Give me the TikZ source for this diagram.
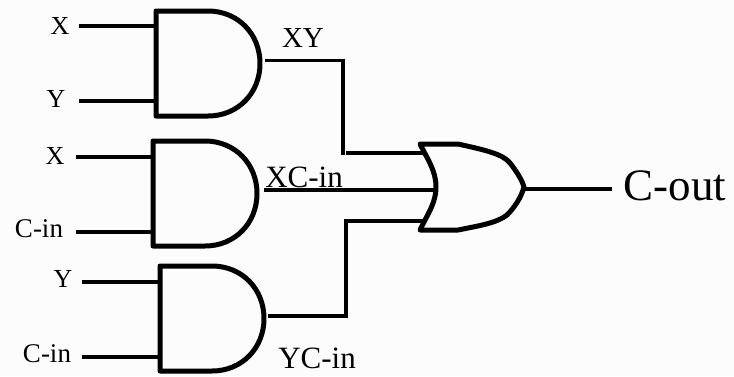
\documentclass[tikz,border=0pt]{standalone}
\usepackage{fontspec}
\setmainfont{Liberation Serif}
\tikzset{
  gate/.style={line width=5pt,line join=round,fill=none},
  wire/.style={line width=3.6pt,line join=miter},
  lab/.style={inner sep=0pt,anchor=center,text=black}
}
\newcommand{\andgate}[3]{% left, top, name prefix
  \draw[gate] (#1+52,#2) -- (#1,#2) -- (#1,#2+105) -- (#1+52,#2+105)
     .. controls (#1+82,#2+105) and (#1+104,#2+82) .. (#1+104,#2+52.5)
     .. controls (#1+104,#2+23) and (#1+82,#2) .. (#1+52,#2) -- cycle;
}
\begin{document}
\begin{tikzpicture}[x=1pt,y=-1pt]
\useasboundingbox (0,0) rectangle (734,376);
\fill[white!99!black] (0,0) rectangle (734,376);
% AND gates
\andgate{156}{11}{a}
\andgate{153}{141}{b}
\andgate{160}{266}{c}
% OR gate
\draw[gate] (420,144) -- (458,144)
   .. controls (485,150) and (503,154) .. (510,163)
   .. controls (517,172) and (522,180) .. (524,187)
   .. controls (521,198) and (514,208) .. (507,215)
   .. controls (497,223) and (478,226) .. (458,230)
   -- (420,230)
   .. controls (428,213) and (436,203) .. (436,187)
   .. controls (436,171) and (428,160) .. (420,144) -- cycle;
% named connection points
\coordinate (x1) at (79,26); \coordinate (a1) at (156,26);
\coordinate (y1) at (79,101); \coordinate (a2) at (156,101);
\coordinate (x2) at (76,157); \coordinate (b1) at (153,157);
\coordinate (c2) at (76,232); \coordinate (b2) at (153,232);
\coordinate (y3) at (82,282); \coordinate (c3) at (160,282);
\coordinate (c4) at (82,357); \coordinate (c5) at (160,357);
\coordinate (ao) at (265,60.5); \coordinate (ac) at (343,60.5);
\coordinate (an) at (343,154.5); \coordinate (oa) at (423,153);
\coordinate (bo) at (264,190); \coordinate (ob) at (435,190);
\coordinate (co) at (268,316); \coordinate (cc) at (346,316);
\coordinate (cn) at (346,221); \coordinate (oc) at (423,221);
\coordinate (oo) at (524,189); \coordinate (out) at (612,189);
\draw[wire] (x1) -- (a1);
\draw[wire] (y1) -- (a2);
\draw[wire] (x2) -- (b1);
\draw[wire] (c2) -- (b2);
\draw[wire] (y3) -- (c3);
\draw[wire] (c4) -- (c5);
\draw[wire] (ao) -- (ac) -- (an);
\draw[wire] (an) ++(3,-1.5) -- (oa);
\draw[wire] (bo) -- (ob);
\draw[wire] (co) -- (cc) -- (cn) -- (oc);
\draw[wire] (oo) -- (out);
% labels
\node[lab,font=\fontsize{26}{26}\selectfont] (l1) at (60,26) {X};
\node[lab,font=\fontsize{26}{26}\selectfont] (l2) at (56,99) {Y};
\node[lab,font=\fontsize{26}{26}\selectfont] (l3) at (55,156) {X};
\node[lab,font=\fontsize{27}{27}\selectfont] (l4) at (39,229) {C-in};
\node[lab,font=\fontsize{26}{26}\selectfont] (l5) at (63,279) {Y};
\node[lab,font=\fontsize{27}{27}\selectfont] (l6) at (47,354) {C-in};
\node[lab,font=\fontsize{29}{29}\selectfont] (l7) at (303,38) {XY};
\node[lab,font=\fontsize{31}{31}\selectfont] (l8) at (304,177) {XC-in};
\node[lab,font=\fontsize{31}{31}\selectfont] (l9) at (317,358) {YC-in};
\node[lab,font=\fontsize{45}{45}\selectfont] (l10) at (675,186) {C-out};
\end{tikzpicture}
\end{document}
